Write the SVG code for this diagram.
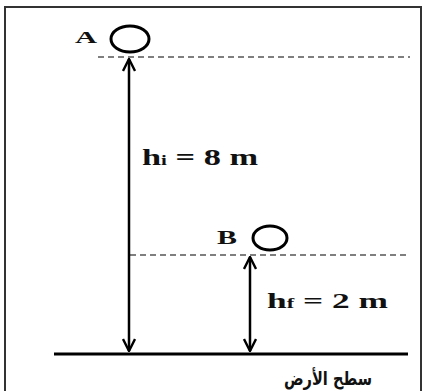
<svg xmlns="http://www.w3.org/2000/svg" width="423" height="391" viewBox="0 0 423 391">
<defs>
<style>
.lbl{font-family:"Liberation Serif","Times New Roman",serif;font-weight:bold;fill:#111}
.ar{font-family:"DejaVu Sans",sans-serif;font-weight:bold;fill:#111}
.ball{fill:none;stroke:#000;stroke-width:3}
.dash{stroke:#555;stroke-width:1.3;stroke-dasharray:6 4;fill:none}
.shaft{stroke:#000;stroke-width:2.5;fill:none}
</style>
<marker id="head" viewBox="0 0 14 14" refX="13" refY="7" markerWidth="14" markerHeight="14" markerUnits="userSpaceOnUse" orient="auto-start-reverse">
<path d="M1,1 L13,7 L1,13" fill="none" stroke="#000" stroke-width="2.4"/>
</marker>
</defs>
<rect width="423" height="391" fill="#fff"/>
<rect x="5" y="7" width="416" height="400" fill="none" stroke="#333" stroke-width="2"/>
<g id="ground">
<line x1="54" y1="354" x2="408" y2="354" stroke="#000" stroke-width="3"/>
<text class="ar" x="328" y="385" font-size="19" text-anchor="middle" direction="rtl" textLength="88" lengthAdjust="spacingAndGlyphs">سطح الأرض</text>
</g>
<g id="ballA">
<ellipse class="ball" cx="130" cy="39" rx="19" ry="13"/>
<text class="lbl" x="75" y="43" font-size="17" textLength="22" lengthAdjust="spacingAndGlyphs">A</text>
</g>
<g id="ballB">
<ellipse class="ball" cx="270" cy="238" rx="17" ry="12"/>
<text class="lbl" x="217" y="244" font-size="19" textLength="20" lengthAdjust="spacingAndGlyphs">B</text>
</g>
<g id="levels">
<line class="dash" x1="98" y1="57" x2="410" y2="57"/>
<line class="dash" x1="130" y1="255" x2="410" y2="255"/>
</g>
<g id="connectors">
<line class="shaft" x1="129" y1="59" x2="129" y2="351" marker-start="url(#head)" marker-end="url(#head)"/>
<line class="shaft" x1="250" y1="257" x2="250" y2="351" marker-start="url(#head)" marker-end="url(#head)"/>
</g>
<g id="hi">
<text class="lbl" x="142" y="165" font-size="23" textLength="116" lengthAdjust="spacingAndGlyphs">h<tspan font-size="14">i</tspan> = 8 m</text>
</g>
<g id="hf">
<text class="lbl" x="267" y="308" font-size="22" textLength="121" lengthAdjust="spacingAndGlyphs">h<tspan font-size="14">f</tspan> = 2 m</text>
</g>
</svg>
